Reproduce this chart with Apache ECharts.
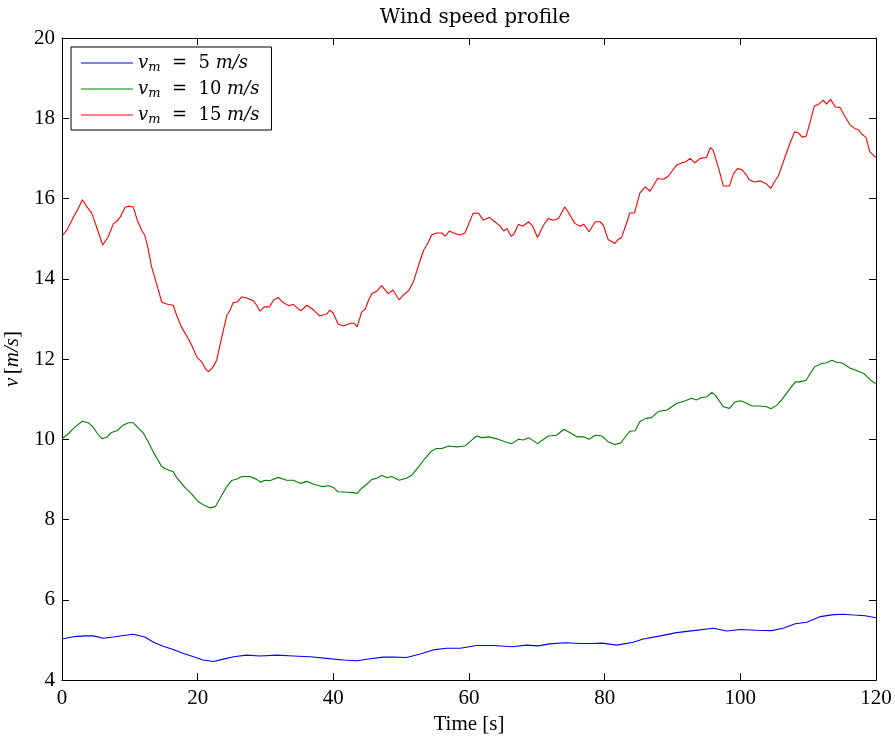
<!DOCTYPE html>
<html>
<head>
<meta charset="utf-8">
<script src="https://cdn.jsdelivr.net/npm/echarts@6/dist/echarts.min.js"></script>
<style>
  html, body { margin: 0; padding: 0; background: #fff; }
  #chart { width: 895px; height: 742px; }
</style>
</head>
<body>
<div id="chart"></div>
<script>
// Wind speed samples, [time (s), speed (m/s)]
const seriesNames = ['v5', 'v10', 'v15'];
const legendSpeeds = ['5', '10', '15'];
const lineColors = ['#0000ff', '#008000', '#ff0000'];

const blueData = [
  [0,5.02],[1.7,5.08],[3.4,5.10],[4.6,5.10],[6.1,5.04],[7.6,5.07],[9.0,5.11],[10.5,5.14],
  [12.2,5.07],[13.5,4.94],[14.9,4.84],[16.4,4.76],[17.9,4.66],[19.4,4.58],[20.8,4.50],
  [22.3,4.46],[23.8,4.52],[25.3,4.58],[27.2,4.62],[29.2,4.60],[31.7,4.62],[34.1,4.60],
  [36.6,4.58],[39.0,4.54],[41.5,4.50],[43.5,4.48],[45.4,4.53],[47.4,4.57],[48.8,4.57],
  [50.8,4.56],[52.8,4.65],[54.7,4.75],[56.7,4.79],[58.7,4.79],[61.1,4.86],[63.6,4.86],
  [66.3,4.83],[68.5,4.87],[70.2,4.85],[71.9,4.90],[74.2,4.93],[76.4,4.91],[78.1,4.91],
  [79.6,4.92],[81.8,4.87],[84.2,4.94],[85.7,5.02],[88.2,5.10],[90.6,5.18],[93.1,5.23],
  [96.0,5.29],[98.0,5.22],[100.0,5.26],[102.4,5.24],[104.6,5.23],[106.3,5.29],[108.1,5.40],
  [109.8,5.44],[111.8,5.58],[113.7,5.63],[115.2,5.64],[116.7,5.62],[118.4,5.60],[120,5.55]
];

const greenData = [
  [0,10.02],[0.7,10.10],[1.7,10.27],[2.4,10.37],[3.0,10.45],[3.9,10.41],[4.6,10.30],[5.2,10.15],
  [5.9,10.01],[6.6,10.05],[7.3,10.17],[8.1,10.21],[9.0,10.35],[9.8,10.41],[10.5,10.41],
  [11.3,10.27],[12.0,10.15],[12.7,9.94],[13.7,9.61],[14.7,9.32],[15.4,9.25],[16.4,9.19],
  [16.9,9.05],[18.1,8.80],[19.1,8.64],[20.1,8.44],[21.1,8.34],[21.8,8.29],[22.6,8.32],
  [23.3,8.53],[24.3,8.82],[25.0,8.97],[25.8,9.01],[26.5,9.07],[27.7,9.07],[28.7,9.00],
  [29.3,8.93],[29.9,8.98],[30.7,8.97],[31.9,9.05],[33.1,8.98],[34.1,8.98],[35.2,8.90],
  [36.1,8.95],[37.1,8.88],[38.3,8.82],[39.4,8.84],[40.0,8.80],[40.7,8.69],[42.0,8.68],
  [43.0,8.67],[43.5,8.65],[44.2,8.78],[44.8,8.86],[45.7,9.00],[46.4,9.03],[47.1,9.10],
  [47.9,9.04],[48.6,9.07],[49.7,8.98],[50.8,9.03],[51.6,9.11],[52.5,9.30],[53.5,9.52],
  [54.5,9.71],[55.2,9.77],[56.0,9.77],[57.0,9.83],[58.2,9.81],[59.4,9.83],[60.4,9.98],
  [61.1,10.08],[61.9,10.04],[62.9,10.06],[64.1,10.01],[65.3,9.94],[66.3,9.89],[67.3,10.00],
  [68.0,9.98],[68.8,10.04],[70.1,9.89],[71.0,10.00],[71.7,10.08],[72.9,10.10],[74.0,10.25],
  [74.9,10.16],[75.9,10.06],[76.9,10.06],[77.7,10.00],[78.6,10.10],[79.6,10.08],[80.5,9.94],
  [81.5,9.87],[82.4,9.91],[83.0,10.05],[83.7,10.20],[84.5,10.21],[85.2,10.44],[86.1,10.52],
  [86.9,10.54],[87.9,10.69],[89.2,10.73],[90.6,10.89],[91.9,10.96],[92.8,11.02],[93.5,10.98],
  [94.3,11.04],[95.1,11.06],[95.8,11.17],[96.3,11.10],[97.5,10.81],[98.4,10.77],[99.2,10.93],
  [100.0,10.96],[100.8,10.91],[101.7,10.83],[102.9,10.83],[103.9,10.81],[104.5,10.76],
  [105.4,10.85],[106.1,10.98],[107.1,11.21],[108.1,11.43],[108.8,11.43],[109.7,11.47],
  [110.3,11.64],[111.0,11.81],[112.0,11.89],[112.6,11.90],[113.5,11.97],[114.2,11.92],
  [115.0,11.90],[116.2,11.77],[117.2,11.71],[118.2,11.64],[119.1,11.49],[120,11.38]
];

const redData = [
  [0,15.06],[0.7,15.21],[1.7,15.54],[2.4,15.75],[3.0,15.97],[3.6,15.81],[4.4,15.63],[5.1,15.29],
  [6.0,14.84],[6.8,15.04],[7.6,15.38],[8.0,15.42],[8.6,15.54],[9.3,15.78],[9.8,15.81],
  [10.5,15.79],[11.1,15.46],[11.8,15.19],[12.2,15.09],[12.7,14.75],[13.2,14.30],[14.0,13.84],
  [14.7,13.42],[15.4,13.37],[16.4,13.34],[16.9,13.09],[17.6,12.80],[18.6,12.51],[19.1,12.35],
  [19.9,12.04],[20.6,11.93],[21.2,11.74],[21.6,11.68],[22.3,11.81],[22.8,11.97],[23.5,12.51],
  [24.3,13.09],[24.8,13.22],[25.2,13.40],[25.8,13.42],[26.5,13.55],[27.2,13.52],[28.2,13.45],
  [28.7,13.34],[29.2,13.19],[29.8,13.30],[30.6,13.30],[31.2,13.47],[31.9,13.53],[32.5,13.42],
  [33.4,13.33],[34.1,13.36],[35.2,13.20],[36.1,13.34],[37.1,13.22],[38.0,13.07],[39.0,13.12],
  [39.5,13.22],[40.0,13.14],[40.7,12.87],[41.5,12.82],[42.5,12.89],[43.1,12.89],[43.5,12.80],
  [44.2,13.18],[44.7,13.24],[45.2,13.47],[45.7,13.63],[46.4,13.69],[47.1,13.83],[48.1,13.63],
  [48.8,13.72],[49.7,13.47],[50.3,13.59],[51.1,13.70],[51.8,13.92],[52.5,14.30],[53.3,14.71],
  [53.8,14.84],[54.5,15.09],[55.2,15.14],[56.0,15.14],[56.5,15.06],[57.1,15.19],[57.9,15.13],
  [58.7,15.09],[59.4,15.14],[59.9,15.34],[60.6,15.63],[61.4,15.64],[62.1,15.46],[63.0,15.53],
  [63.8,15.42],[64.6,15.31],[65.1,15.19],[65.6,15.25],[66.2,15.06],[66.6,15.11],[67.3,15.36],
  [67.9,15.31],[68.8,15.42],[69.4,15.31],[70.1,15.03],[71.0,15.34],[71.7,15.50],[72.4,15.46],
  [73.2,15.50],[74.1,15.79],[74.6,15.67],[75.6,15.38],[76.4,15.31],[76.9,15.36],[77.7,15.17],
  [78.6,15.42],[79.3,15.42],[79.8,15.34],[80.5,14.98],[81.5,14.88],[82.0,14.98],[82.5,15.03],
  [83.3,15.42],[83.7,15.64],[84.4,15.64],[85.2,16.14],[86.0,16.29],[86.7,16.18],[87.8,16.50],
  [88.7,16.48],[89.4,16.56],[90.6,16.83],[91.4,16.89],[91.9,16.91],[92.6,17.00],[93.3,16.89],
  [94.1,17.00],[95.0,17.02],[95.6,17.27],[96.0,17.20],[96.8,16.75],[97.5,16.31],[98.4,16.31],
  [99.0,16.62],[99.6,16.75],[100.2,16.72],[100.8,16.61],[101.3,16.47],[102.1,16.41],
  [102.9,16.44],[103.8,16.37],[104.5,16.25],[105.0,16.41],[105.6,16.56],[106.6,17.04],
  [107.3,17.37],[108.0,17.66],[108.6,17.63],[109.1,17.53],[109.7,17.55],[110.3,17.91],
  [110.9,18.30],[111.7,18.37],[112.2,18.45],[112.7,18.35],[113.3,18.47],[114.0,18.28],
  [114.7,18.27],[115.4,18.05],[116.2,17.83],[116.9,17.74],[117.4,17.72],[117.9,17.60],
  [118.5,17.53],[119.1,17.16],[120,17.02]
];

const xTicks = [0, 20, 40, 60, 80, 100, 120];
const yTicks = [4, 6, 8, 10, 12, 14, 16, 18, 20];

const serif = '"Liberation Serif", "DejaVu Serif", serif';
const wideSerif = '"DejaVu Serif", "Liberation Serif", serif';
const allData = [blueData, greenData, redData];

const chart = echarts.init(document.getElementById('chart'), null, { renderer: 'canvas' });

const axisBase = {
  axisLine: { show: true, onZero: false, lineStyle: { color: '#000', width: 1 } },
  axisTick: { show: true, inside: true, length: 7, lineStyle: { color: '#000', width: 1 } },
  splitLine: { show: false }
};

const legendRich = {
  i: { fontFamily: wideSerif, fontStyle: 'italic', fontSize: 18, color: '#000', lineHeight: 20 },
  s: { fontFamily: wideSerif, fontStyle: 'italic', fontSize: 13, color: '#000', lineHeight: 20, padding: [9, 0, 0, 0] },
  n: { fontFamily: wideSerif, fontSize: 18, color: '#000', lineHeight: 20 }
};

chart.setOption({
  animation: false,
  backgroundColor: '#fff',
  title: {
    text: 'Wind speed profile',
    left: 470, top: 3, textAlign: 'center',
    textStyle: { fontFamily: wideSerif, fontWeight: 'normal', fontSize: 20, color: '#000' }
  },
  grid: { left: 62, right: 19, top: 38, bottom: 62, containLabel: false, outerBoundsMode: 'none' },
  legend: {
    left: 71, top: 47, orient: 'vertical',
    data: seriesNames,
    icon: 'rect', itemWidth: 52, itemHeight: 1, itemGap: 4,
    padding: [5, 12, 4, 10],
    borderColor: '#000', borderWidth: 1, backgroundColor: '#fff',
    borderRadius: 0,
    formatter: function (name) {
      const k = seriesNames.indexOf(name);
      return '{i|v}{s|m}{n|  =  ' + legendSpeeds[k] + ' }{i|m/s}';
    },
    textStyle: { rich: legendRich }
  },
  xAxis: [
    Object.assign({}, axisBase, {
      type: 'value', min: 0, max: 120, interval: 20, position: 'bottom',
      name: 'Time [s]', nameLocation: 'middle', nameGap: 34,
      nameTextStyle: { fontFamily: serif, fontSize: 21, color: '#000' },
      axisLabel: {
        margin: 8, fontFamily: serif, fontSize: 21, color: '#000',
        formatter: v => xTicks.includes(v) ? String(v) : ''
      }
    }),
    Object.assign({}, axisBase, {
      type: 'value', min: 0, max: 120, interval: 20, position: 'top',
      axisLabel: { show: false }
    })
  ],
  yAxis: [
    Object.assign({}, axisBase, {
      type: 'value', min: 4, max: 20, interval: 2, position: 'left',
      name: '{i|v} {n|[}{i|m/s}{n|]}', nameLocation: 'middle', nameGap: 35, nameRotate: 90,
      nameTextStyle: {
        rich: {
          i: { fontFamily: serif, fontStyle: 'italic', fontSize: 21, color: '#000' },
          n: { fontFamily: serif, fontSize: 21, color: '#000' }
        }
      },
      axisLabel: {
        margin: 7, fontFamily: serif, fontSize: 21, color: '#000',
        formatter: v => yTicks.includes(v) ? String(v) : ''
      }
    }),
    Object.assign({}, axisBase, {
      type: 'value', min: 4, max: 20, interval: 2, position: 'right',
      axisLabel: { show: false }
    })
  ],
  series: seriesNames.map((name, k) => ({
    name: name,
    type: 'line',
    xAxisIndex: 0, yAxisIndex: 0,
    data: allData[k],
    showSymbol: false,
    symbol: 'none',
    lineStyle: { color: lineColors[k], width: 1.1 },
    itemStyle: { color: lineColors[k] },
    z: 2 + k
  }))
});
</script>
</body>
</html>
